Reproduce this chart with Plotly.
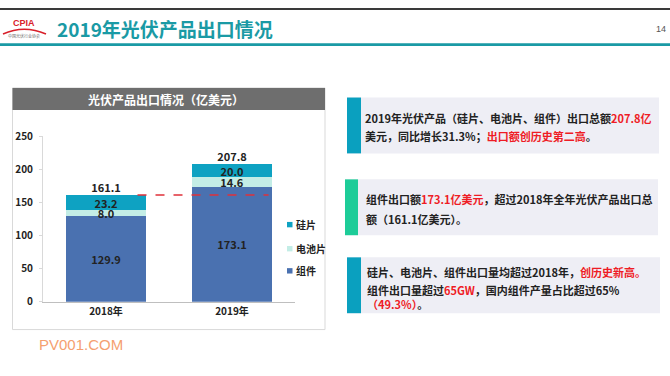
import plotly.graph_objects as go

W, H = 670, 376

years = ["2018年", "2019年"]
modules = [129.9, 173.1]      # 组件
cells = [8.0, 14.6]           # 电池片
wafers = [23.2, 20.0]         # 硅片
totals = [161.1, 207.8]
series_names = ["组件", "电池片", "硅片"]
y_ticks = [0, 50, 100, 150, 200, 250]

C_MOD = "#4a71b0"
C_CELL = "#c3ede6"
C_WAF = "#0ea2c2"
TEAL = "#1a9aa5"
RED = "#ee1c25"
DARK = "#222222"
CJK = "Noto Sans CJK SC"
colors = [C_MOD, C_CELL, C_WAF]


def px(x):
    return x / W


def py(y):
    return 1 - y / H


fig = go.Figure()
for name, vals, col in zip(series_names, [modules, cells, wafers], colors):
    fig.add_trace(go.Bar(
        x=years, y=vals, name=name, marker=dict(color=col, line=dict(width=0)),
        texttemplate="%{y:.1f}", textposition="inside", insidetextanchor="middle",
        textfont=dict(family=CJK, size=11, color=DARK, weight="bold"),
        showlegend=False, hoverinfo="skip", cliponaxis=False,
    ))

fig.add_trace(go.Scatter(
    x=years, y=totals, mode="text", text=[f"{t:.1f}" for t in totals],
    textposition="top center", showlegend=False, cliponaxis=False,
    textfont=dict(family=CJK, size=11, color=DARK, weight="bold"),
))

shapes = []
annotations = []

# top dark line & teal header line
shapes.append(dict(type="rect", xref="paper", yref="paper", x0=0, x1=1, y0=py(2), y1=py(0),
                   fillcolor="#3a3a3a", line=dict(width=0), layer="below"))
shapes.append(dict(type="rect", xref="paper", yref="paper", x0=0, x1=1, y0=py(39.5), y1=py(36.5),
                   fillcolor=TEAL, line=dict(width=0), layer="below"))

# title
annotations.append(dict(text="2019年光伏产品出口情况", xref="paper", yref="paper", x=px(55), y=py(21),
                        xanchor="left", yanchor="middle", showarrow=False,
                        font=dict(family=CJK, size=19, color=TEAL, weight="bold")))
# page number
annotations.append(dict(text="14", xref="paper", yref="paper", x=px(668), y=py(22),
                        xanchor="right", yanchor="middle", showarrow=False,
                        font=dict(family="Liberation Sans", size=9, color="#555555")))
# logo
annotations.append(dict(text="CPIA", xref="paper", yref="paper", x=px(24), y=py(16),
                        xanchor="center", yanchor="middle", showarrow=False,
                        font=dict(family="Liberation Sans", size=9, color="#d8202a", weight="bold")))
shapes.append(dict(type="path", xref="paper", yref="paper",
                   path=f"M {px(3)},{py(27)} Q {px(24)},{py(17)} {px(46)},{py(27)}",
                   line=dict(color="#d8202a", width=1.5)))
annotations.append(dict(text="中国光伏行业协会", xref="paper", yref="paper", x=px(24), y=py(29),
                        xanchor="center", yanchor="middle", showarrow=False,
                        font=dict(family=CJK, size=4, color="#666666")))

# chart panel
shapes.append(dict(type="rect", xref="paper", yref="paper", x0=px(12.5), x1=px(325), y0=py(334), y1=py(83),
                   fillcolor="rgba(0,0,0,0)", line=dict(color="#d9d9d9", width=1), layer="below"))
shapes.append(dict(type="rect", xref="paper", yref="paper", x0=px(12.5), x1=px(325), y0=py(106), y1=py(83),
                   fillcolor="#6e6e6e", line=dict(width=0), layer="below"))
annotations.append(dict(text="光伏产品出口情况（亿美元）", xref="paper", yref="paper", x=px(166), y=py(95),
                        xanchor="center", yanchor="middle", showarrow=False,
                        font=dict(family=CJK, size=12, color="white", weight="bold")))

# red dashed reference line at 2018 total
shapes.append(dict(type="line", xref="x", yref="y", x0=0.25, x1=1.29, y0=totals[0], y1=totals[0],
                   line=dict(color="#e0303a", width=1.5, dash="dash"), layer="above"))

# legend (small squares + labels), top to bottom: 硅片, 电池片, 组件
legend_y = [273, 250, 225]
for name, col, ly in zip(series_names, colors, legend_y):
    shapes.append(dict(type="rect", xref="paper", yref="paper", x0=px(287), x1=px(292.5),
                       y0=py(ly + 2.8), y1=py(ly - 2.8), fillcolor=col, line=dict(width=0)))
    annotations.append(dict(text=name, xref="paper", yref="paper", x=px(294), y=py(ly),
                            xanchor="left", yanchor="middle", showarrow=False,
                            font=dict(family=CJK, size=10, color=DARK, weight="bold")))

# right text boxes
boxes = [
    dict(x0=347, x1=659, y0=93, y1=151, acc=361, col="#0aa0bf"),
    dict(x0=345, x1=658, y0=178, y1=236, acc=358, col="#1dcc98"),
    dict(x0=347, x1=660, y0=259, y1=317, acc=361, col="#0aa0bf"),
]
for b in boxes:
    shapes.append(dict(type="rect", xref="paper", yref="paper", x0=px(b["x0"]), x1=px(b["x1"]),
                       y0=py(b["y1"]), y1=py(b["y0"]), fillcolor="#eeeef5", line=dict(width=0), layer="below"))
    shapes.append(dict(type="rect", xref="paper", yref="paper", x0=px(b["x0"]), x1=px(b["acc"]),
                       y0=py(b["y1"]), y1=py(b["y0"]), fillcolor=b["col"], line=dict(width=0), layer="below"))


def red(s):
    return f'<span style="color:{RED}">{s}</span>'


lines = [
    (363, 114, "2019年光伏产品（硅片、电池片、组件）出口总额" + red("207.8亿")),
    (363, 133, "美元，同比增长31.3%；" + red("出口额创历史第二高") + "。"),
    (364, 198, "组件出口额" + red("173.1亿美元") + "，超过2018年全年光伏产品出口总"),
    (364, 219, "额（161.1亿美元）。"),
    (365, 274, "硅片、电池片、组件出口量均超过2018年，" + red("创历史新高。")),
    (365, 293, "组件出口量超过" + red("65GW") + "，国内组件产量占比超过65%"),
    (365, 307, red("（49.3%）") + "。"),
]
for x, y, t in lines:
    annotations.append(dict(text=t, xref="paper", yref="paper", x=px(x), y=py(y),
                            xanchor="left", yanchor="middle", showarrow=False, align="left",
                            font=dict(family=CJK, size=11, color=DARK, weight="bold")))

# watermark
annotations.append(dict(text="PV001.COM", xref="paper", yref="paper", x=px(37), y=py(350),
                        xanchor="left", yanchor="middle", showarrow=False,
                        font=dict(family="Liberation Sans", size=15, color="#f5a070")))

fig.update_layout(
    width=W, height=H, margin=dict(l=0, r=0, t=0, b=0),
    paper_bgcolor="white", plot_bgcolor="white",
    barmode="stack", bargap=0.365,
    uniformtext=dict(minsize=11, mode="show"),
    shapes=shapes, annotations=annotations,
    showlegend=False,
    xaxis=dict(domain=[px(43), px(295)], showline=True, linecolor="#bfbfbf", linewidth=1,
               ticks="", showgrid=False, zeroline=False,
               tickfont=dict(family=CJK, size=10, color=DARK, weight="bold")),
    yaxis=dict(domain=[1 - 305 / H, 1 - 133 / H], range=[0, 250], tickvals=y_ticks,
               showline=True, linecolor="#d9d9d9", linewidth=1, ticks="outside", ticklen=3,
               tickcolor="#d9d9d9", showgrid=False, zeroline=False, ticklabelstandoff=4,
               tickfont=dict(family=CJK, size=10, color=DARK, weight="bold")),
)

fig.write_html("out.html")
